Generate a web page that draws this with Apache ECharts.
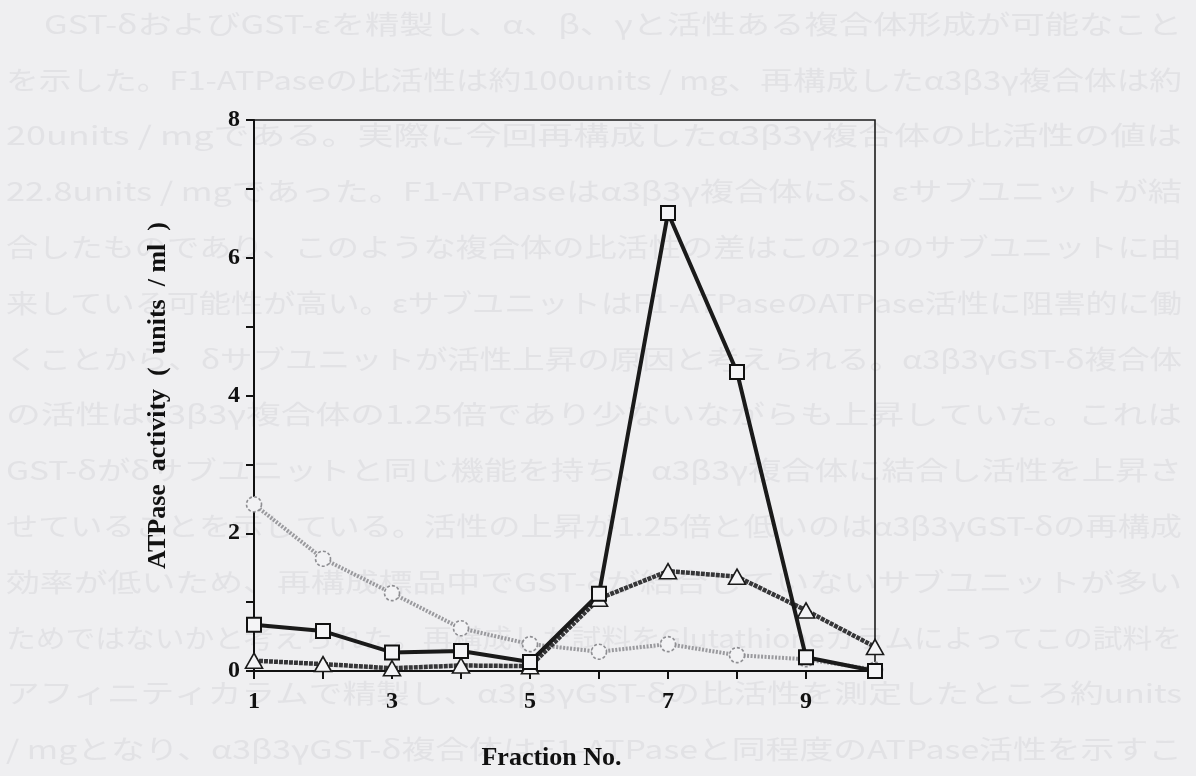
<!DOCTYPE html>
<html>
<head>
<meta charset="utf-8">
<script src="https://cdn.jsdelivr.net/npm/echarts@6/dist/echarts.min.js"></script>
<style>
html,body{margin:0;padding:0;background:#efeff1;}
#chart{width:1196px;height:776px;}
</style>
</head>
<body>
<div id="chart"></div>
<script>
// ---- data ----
const fractions = [1, 2, 3, 4, 5, 6, 7, 8, 9, 10];
const squareValues   = [0.67, 0.58, 0.27, 0.29, 0.13, 1.12, 6.65, 4.34, 0.20, 0.00];
const triangleValues = [0.15, 0.10, 0.04, 0.08, 0.07, 1.05, 1.45, 1.37, 0.88, 0.35];
const circleValues   = [2.42, 1.63, 1.13, 0.62, 0.39, 0.28, 0.39, 0.23, 0.17, 0.02];
const xTickLabels = [1, 3, 5, 7, 9];
const yTickLabels = [0, 2, 4, 6, 8];
const xAxisTitle = 'Fraction No.';
const yAxisTitle = 'ATPase  activity  (  units  / ml  )';
// faint body text of the scanned page behind the figure
const pageLines = [
  'GST-δおよびGST-εを精製し、α、β、γと活性ある複合体形成が可能なこと',
  'を示した。F1-ATPaseの比活性は約100units / mg、再構成したα3β3γ複合体は約',
  '20units / mgである。実際に今回再構成したα3β3γ複合体の比活性の値は',
  '22.8units / mgであった。F1-ATPaseはα3β3γ複合体にδ、εサブユニットが結',
  '合したものであり、このような複合体の比活性の差はこの2つのサブユニットに由',
  '来している可能性が高い。εサブユニットはF1-ATPaseのATPase活性に阻害的に働',
  'くことから、δサブユニットが活性上昇の原因と考えられる。α3β3γGST-δ複合体',
  'の活性はα3β3γ複合体の1.25倍であり少ないながらも上昇していた。これは',
  'GST-δがδサブユニットと同じ機能を持ち、α3β3γ複合体に結合し活性を上昇さ',
  'せていることを示している。活性の上昇が1.25倍と低いのはα3β3γGST-δの再構成',
  '効率が低いため、再構成標品中でGST-δが結合していないサブユニットが多い',
  'ためではないかと考えられた。再構成した試料をGlutathioneカラムによってこの試料を',
  'アフィニティカラムで精製し、α3β3γGST-δの比活性を測定したところ約units',
  '/ mgとなり、α3β3γGST-δ複合体はF1-ATPaseと同程度のATPase活性を示すこ'
];

// ---- build ----
const pair = vals => fractions.map((f, i) => [f, vals[i]]);
const serif = '"Liberation Serif", "Times New Roman", serif';
const pageFont = '26px "Noto Sans CJK JP"';

const measureCtx = document.createElement('canvas').getContext('2d');
measureCtx.font = pageFont;
const pageText = pageLines.map((t, i) => {
  const x0 = i === 0 ? 44 : 6;
  const target = 1182 - x0;
  const w = measureCtx.measureText(t).width || target;
  return {
    type: 'text',
    x: x0,
    y: 24 + 55.8 * i,
    scaleX: target / w,
    z: -10,
    silent: true,
    style: { text: t, font: pageFont, fill: '#e2e2e5', verticalAlign: 'middle', align: 'left' }
  };
});

const chart = echarts.init(document.getElementById('chart'), null, { renderer: 'canvas' });
chart.setOption({
  animation: false,
  backgroundColor: '#efeff1',
  graphic: { elements: pageText },
  grid: {
    left: 254, right: 321, top: 120, bottom: 103,
    show: true, borderColor: '#1c1c1c', borderWidth: 1.6, backgroundColor: 'transparent'
  },
  xAxis: {
    type: 'value', min: 1, max: 10, interval: 1,
    name: xAxisTitle, nameLocation: 'middle', nameGap: 74,
    nameTextStyle: { fontFamily: serif, fontWeight: 'bold', fontSize: 26, color: '#111', padding: [0, 26, 0, 0] },
    axisLine: { show: true, lineStyle: { color: '#111', width: 2 } },
    axisTick: { show: true, inside: false, length: 8, lineStyle: { color: '#111', width: 2 } },
    axisLabel: {
      margin: 19, fontFamily: serif, fontWeight: 'bold', fontSize: 24, color: '#111',
      formatter: v => xTickLabels.includes(v) ? String(v) : ''
    },
    splitLine: { show: false }
  },
  yAxis: {
    type: 'value', min: 0, max: 8, interval: 1,
    name: yAxisTitle, nameLocation: 'middle', nameGap: 83,
    nameTextStyle: { fontFamily: serif, fontWeight: 'bold', fontSize: 26, color: '#111' },
    axisLine: { show: true, lineStyle: { color: '#111', width: 2 } },
    axisTick: { show: true, inside: false, length: 8, lineStyle: { color: '#111', width: 2 } },
    axisLabel: {
      margin: 14, fontFamily: serif, fontWeight: 'bold', fontSize: 24, color: '#111',
      padding: [0, 0, 9, 0],
      formatter: v => yTickLabels.includes(v) ? String(v) : ''
    },
    splitLine: { show: false }
  },
  series: [
    {
      name: 'circle', type: 'line', data: pair(circleValues), z: 2,
      symbol: 'circle', symbolSize: 15,
      lineStyle: { color: '#9a9a9e', width: 4, type: [2, 1.5] },
      itemStyle: { color: '#f2f2f4', borderColor: '#8e8e92', borderWidth: 1.6, borderType: [3, 2] }
    },
    {
      name: 'triangle', type: 'line', data: pair(triangleValues), z: 3,
      symbol: 'triangle', symbolSize: [17, 15],
      lineStyle: { color: '#363638', width: 4.5, type: [4, 1] },
      itemStyle: { color: '#f4f4f6', borderColor: '#1a1a1a', borderWidth: 1.6 }
    },
    {
      name: 'square', type: 'line', data: pair(squareValues), z: 4,
      symbol: 'rect', symbolSize: 14,
      lineStyle: { color: '#1a1a1a', width: 4 },
      itemStyle: { color: '#f4f4f6', borderColor: '#111', borderWidth: 2 }
    }
  ]
});
</script>
</body>
</html>
